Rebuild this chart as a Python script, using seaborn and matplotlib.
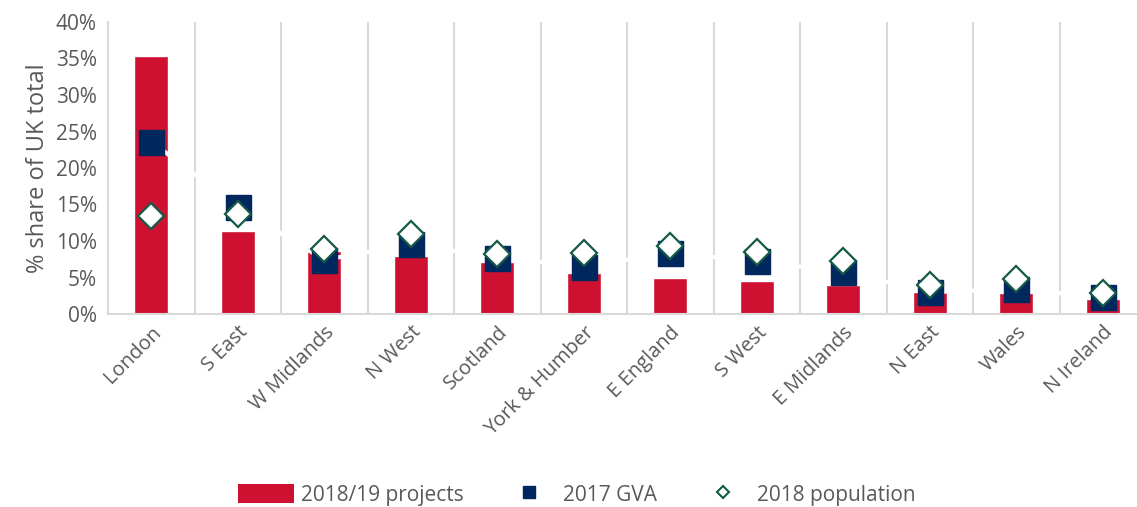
import numpy as np
import pandas as pd
import matplotlib
matplotlib.use("Agg")
import matplotlib.pyplot as plt
import seaborn as sns
from matplotlib.patches import Patch
from matplotlib.lines import Line2D
from matplotlib.ticker import PercentFormatter, MultipleLocator

regions = ["London", "S East", "W Midlands", "N West", "Scotland", "York & Humber",
           "E England", "S West", "E Midlands", "N East", "Wales", "N Ireland"]
projects = [35.4, 11.4, 8.6, 8.0, 7.1, 5.6, 5.0, 4.5, 4.0, 3.0, 2.9, 2.1]
gva = [23.6, 14.7, 7.4, 9.6, 7.7, 6.5, 8.4, 7.2, 5.8, 3.0, 3.4, 2.3]
population = [13.4, 13.7, 8.9, 11.0, 8.2, 8.3, 9.3, 8.5, 7.3, 4.0, 4.8, 2.9]

RED = "#CE1130"
NAVY = "#00285E"
GREEN = "#145A48"
GRID = "#D9D9D9"
TXT = "#595959"

sns.set_theme(style="white")
plt.rcParams["font.family"] = ["Open Sans", "DejaVu Sans"]

df = pd.DataFrame({"region": regions, "projects": projects})

fig = plt.figure(figsize=(11.37, 5.07), dpi=100)
ax = fig.add_axes([108 / 1137, 1 - 314 / 507, 1038 / 1137, 292 / 507])

sns.barplot(data=df, x="region", y="projects", color=RED, width=0.39,
            saturation=1, ax=ax, zorder=2)

x = np.arange(len(regions))
ax.plot(x, gva, color="white", lw=3, zorder=3, solid_capstyle="butt")
ax.plot(x, gva, ls="none", marker="s", ms=18, color=NAVY, zorder=4)
ax.plot(x, population, ls="none", marker="D", ms=13.5, mfc="white",
        mec=GREEN, mew=1.6, zorder=5)

ax.set_xlim(-0.5, len(regions) - 0.5)
ax.set_ylim(0, 40)
ax.yaxis.set_major_locator(MultipleLocator(5))
ax.yaxis.set_major_formatter(PercentFormatter(decimals=0))

for b in np.arange(-0.5, len(regions) - 0.5, 1.0):
    ax.axvline(b, color=GRID, lw=1.5, zorder=0)

for s in ["top", "right"]:
    ax.spines[s].set_visible(False)
for s in ["left", "bottom"]:
    ax.spines[s].set_color(GRID)
    ax.spines[s].set_linewidth(1.5)

ax.tick_params(axis="y", labelsize=15, labelcolor=TXT, length=0, pad=8)
ax.tick_params(axis="x", labelsize=14.5, labelcolor=TXT, length=0, pad=6)
for lab in ax.get_xticklabels():
    lab.set_rotation(45)
    lab.set_ha("right")
    lab.set_rotation_mode("anchor")
ax.set_xlabel("")
ax.set_ylabel("% share of UK total", fontsize=17, color=TXT, labelpad=4)

handles = [
    Patch(facecolor=RED, edgecolor="none", label="2018/19 projects"),
    Line2D([], [], ls="none", marker="s", ms=9, color=NAVY, label="2017 GVA"),
    Line2D([], [], ls="none", marker="D", ms=6.5, mfc="white", mec=GREEN,
           mew=1.5, label="2018 population"),
]
fig.legend(handles=handles, loc="center", bbox_to_anchor=(577 / 1137, 1 - 495 / 507),
           ncol=3, frameon=False, fontsize=15, labelcolor=TXT,
           handlelength=2.7, handleheight=1.0, columnspacing=1.8, handletextpad=0.3)

fig.savefig("out.png", dpi=100)
